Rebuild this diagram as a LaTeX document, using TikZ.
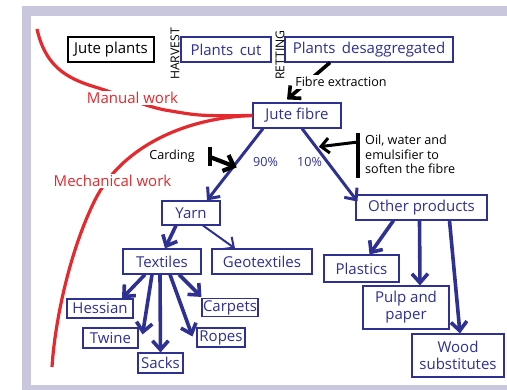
\documentclass[tikz,border=0pt]{standalone}
\usepackage{fontspec}
\setmainfont{Open Sans}
\usetikzlibrary{arrows.meta,calc}
\definecolor{navy}{HTML}{2E3192}
\definecolor{redw}{HTML}{E42A2E}
\definecolor{framec}{HTML}{C9C7DD}
\begin{document}
\begin{tikzpicture}[x=1pt,y=-1pt,
  box/.style={draw=navy, line width=1.1pt, text=navy, inner sep=0pt, align=center,
    font=\fontsize{15}{17}\selectfont},
  blackbox/.style={box, draw=black, text=black},
  small/.style={inner sep=1pt, font=\fontsize{12.6}{14.5}\selectfont},
  redlbl/.style={text=redw, fill=white, inner sep=1.5pt, font=\fontsize{15}{17}\selectfont},
  vlbl/.style={rotate=90, inner sep=0pt, font=\fontsize{12.2}{14}\selectfont},
  redcurve/.style={draw=redw, line width=3.2pt},
  barb/.style={-{Straight Barb[length=9pt,width=16pt]}},
  flow/.style={draw=navy, line width=3.6pt, barb},
  flowmid/.style={draw=navy, line width=3pt, barb},
  flowthin/.style={draw=navy, line width=2pt, -{Straight Barb[length=8pt,width=15pt]}},
  blk/.style={draw=black, line width=3.6pt, -{Straight Barb[length=9pt,width=17pt]}}
]
\useasboundingbox (0,0) rectangle (507,390);
% frame
\fill[framec] (22,6) rectangle (507,390);
\fill[white] (31,16) rectangle (507,385);

% nodes
\node[blackbox, minimum width=86pt, minimum height=25pt] (jp) at (111,49.5) {Jute plants};
\node[box, minimum width=90pt, minimum height=25pt] (pc) at (226,49.5) {Plants\, cut};
\node[box, minimum width=168pt, minimum height=25pt] (pd) at (369,49.5) {Plants\, desaggregated};
\node[vlbl] (harv) at (175,54) {HARVEST};
\node[vlbl] (ret) at (280,55) {RETTING};
\node[box, minimum width=88pt, minimum height=25pt] (jf) at (297,115.5) {Jute fibre};
\node[box, minimum width=58pt, minimum height=24pt] (yarn) at (191,213) {Yarn};
\node[box, minimum width=78pt, minimum height=25pt] (tex) at (162,261.5) {Textiles};
\node[box, minimum width=100pt, minimum height=25pt] (geo) at (262,261.5) {Geotextiles};
\node[box, minimum width=66pt, minimum height=19pt] (hes) at (100,308.5) {Hessian};
\node[box, minimum width=55pt, minimum height=20pt] (twi) at (110.5,338) {Twine};
\node[box, minimum width=45pt, minimum height=20pt] (sac) at (160.5,363) {Sacks};
\node[box, minimum width=48pt, minimum height=19pt] (rop) at (221,337.5) {Ropes};
\node[box, minimum width=56pt, minimum height=18pt] (car) at (230,307.5) {Carpets};
\node[box, minimum width=131pt, minimum height=25pt] (op) at (421.5,207.5) {Other products};
\node[box, minimum width=75pt, minimum height=27pt] (pla) at (361.5,268.5) {Plastics};
\node[box, minimum width=86pt, minimum height=43pt] (pul) at (406,307.5) {Pulp and\\paper};
\node[box, minimum width=92pt, minimum height=43pt] (woo) at (458,355.5) {Wood\\substitutes};

% red curves
\draw[redcurve] (37,29) .. controls (45,65) and (65,78) .. (95,87)
  .. controls (125,96) and (140,105) .. (165,110)
  .. controls (200,116) .. (jf.west);
\draw[redcurve] (jf.west) .. controls (180,118) and (120,150) .. (95,200)
  .. controls (70,250) and (55,320) .. (52,367);
\node[redlbl] (man) at (132.5,98) {Manual work};
\node[redlbl] (mech) at (112.5,181) {Mechanical work};

% fibre extraction
\draw[blk] ($(pd.south)+(-39,0)$) -- ($(jf.north)+(-10,-3)$);
\node[small, fill=white, inner sep=2pt] (fe) at (341,82) {Fibre extraction};

% blue flows
\draw[flowmid] ($(jf.south)+(-34,0)$) coordinate (a1) -- ($(yarn.north)+(16,0)$) coordinate (a2);
\draw[flowmid] ($(jf.south)+(5,0)$) coordinate (b1) -- ($(op.west)+(2,-6)$) coordinate (b2);
\node[small, text=navy] (p90) at (265.5,162) {90\%};
\node[small, text=navy] (p10) at (309.5,162) {10\%};

% carding
\node[small] (card) at (172,156) {Carding};
\coordinate (cbar) at (210,157);
\draw[black, line width=4.5pt] ($(cbar)+(0,-10)$) -- ($(cbar)+(0,9)$);
\draw[black, line width=4.2pt, -{Straight Barb[length=9pt,width=17pt]}] (cbar) -- ($(a1)!0.54!(a2)+(4,0)$);

% oil
\coordinate (obar) at (358,142);
\draw[black, line width=3.5pt] ($(obar)+(0,-9)$) -- ($(obar)+(0,36)$);
\draw[black, line width=3pt, -{Straight Barb[length=8pt,width=15pt]}] (obar) -- ($(b1)!0.25!(b2)+(3,0)$);
\node[small, anchor=west, align=left] (oil) at (364,154.5) {Oil, water and\\emulsifier to\\soften the fibre};

% yarn children
\draw[flow] ($(yarn.south)+(-15,0)$) -- ($(tex.north)+(3,0)$);
\draw[flowthin] ($(yarn.south)+(12,0)$) -- ($(geo.north)+(-27,0)$);

% textiles children
\draw[flow] ($(tex.south)+(-17,0)$) -- ($(hes.north)+(22,0)$);
\draw[flow] ($(tex.south)+(-10,0)$) -- ($(twi.north east)+(4,7)$);
\draw[flow] ($(tex.south)+(-2,0)$) -- (sac.north);
\draw[flow] ($(tex.south)+(8,0)$) -- ($(rop.north west)+(-4,9)$);
\draw[flow] ($(tex.south)+(17,0)$) -- ($(car.north west)+(0,-1)$);

% other products children
\draw[flow] ($(op.south)+(-28,0)$) -- ($(pla.north)+(8,0)$);
\draw[flow] ($(op.south)+(-2,0)$) -- ($(pul.north)+(14,0)$);
\draw[flow] ($(op.south)+(28,0)$) -- ($(woo.north)+(2,0)$);
\end{tikzpicture}
\end{document}
